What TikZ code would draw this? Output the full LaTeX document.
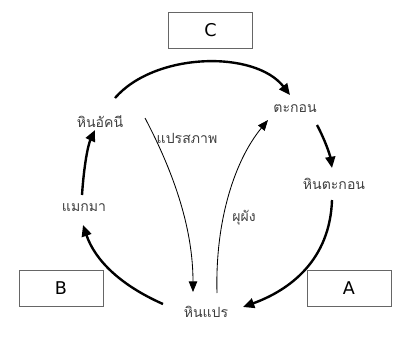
\documentclass[tikz,border=0pt]{standalone}
\usepackage{fontspec}
\setmainfont{DejaVu Sans}
\newfontfamily\thaifont[Script=Thai]{Loma}
\usetikzlibrary{arrows.meta}
\begin{document}
\begin{tikzpicture}[x=0.025cm,y=-0.025cm,
  thaitext/.style={font=\thaifont\fontsize{10}{12}\selectfont, inner sep=0pt, text=black!75},
  letterbox/.style={draw=black!60, line width=0.6pt, minimum width=2.1cm, minimum height=0.9cm, font=\fontsize{12.5}{14}\selectfont, inner sep=0pt},
  thick arrow/.style={line width=1.7pt, -{Triangle[length=8pt,width=7pt]}},
  thin arrow/.style={line width=0.6pt, draw=black!70, -{Triangle[length=7.5pt,width=6pt]}, color=black}
]
\useasboundingbox (0,0) rectangle (414,349);
\node[letterbox] (C) at (210.5,30.5) {C};
\node[letterbox] (B) at (61,288) {B};
\node[letterbox] (A) at (349,288) {A};

\node[thaitext] (ign) at (100,122) {หินอัคนี};
\node[thaitext] (sed) at (295,109) {ตะกอน};
\node[thaitext] (sedr) at (334,184) {หินตะกอน};
\node[thaitext] (mag) at (84,208) {แมกมา};
\node[thaitext] (met) at (206,312) {หินแปร};
\node[thaitext] (lbl1) at (187,138) {แปรสภาพ};
\node[thaitext] (lbl2) at (244,218) {ผุผัง};

\coordinate (a1s) at (115,98); \coordinate (a1e) at (290,95);
\coordinate (a2s) at (317,125); \coordinate (a2e) at (332,168);
\coordinate (a3s) at (332,200); \coordinate (a3e) at (243,307);
\coordinate (a4s) at (163,304); \coordinate (a4e) at (83,225);
\coordinate (a5s) at (82,195); \coordinate (a5e) at (95,130);
\coordinate (t1s) at (145,118); \coordinate (t1e) at (193,292);
\coordinate (t2s) at (217,293); \coordinate (t2e) at (268,120);

\draw[thick arrow] (a1s) .. controls (155,52) and (255,50) .. (a1e);
\draw[thick arrow] (a2s) .. controls (325,140) and (330,155) .. (a2e);
\draw[thick arrow] (a3s) .. controls (330,260) and (290,290) .. (a3e);
\draw[thick arrow] (a4s) .. controls (120,285) and (95,260) .. (a4e);
\draw[thick arrow] (a5s) .. controls (84,165) and (88,145) .. (a5e);
\draw[thin arrow] (t1s) .. controls (175,175) and (193,230) .. (t1e);
\draw[thin arrow] (t2s) .. controls (215,220) and (235,160) .. (t2e);
\end{tikzpicture}
\end{document}
